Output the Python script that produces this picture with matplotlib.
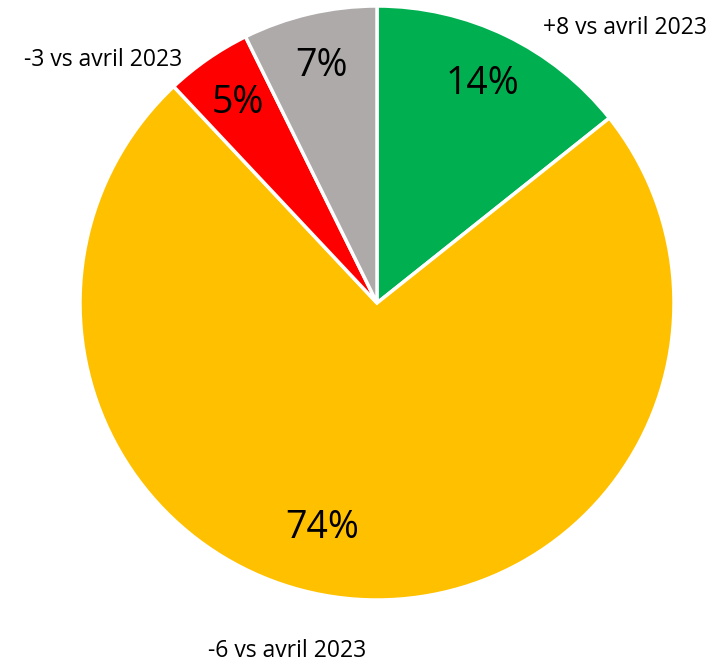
import matplotlib
matplotlib.use("Agg")
import matplotlib.pyplot as plt
import numpy as np

categories = ["Hausse", "Stable", "Baisse", "NSP"]
values = [14.3, 73.7, 4.7, 7.3]
colors = ["#00B050", "#FFC000", "#FF0000", "#AEAAAA"]
annotations = ["+8 vs avril 2023", "-6 vs avril 2023", "-3 vs avril 2023"]

plt.rcParams['font.family'] = ['Open Sans', 'DejaVu Sans']

W, H = 723, 664
fig = plt.figure(figsize=(W/100, H/100), dpi=100)
cx, cy, R = 377, 303, 297
ax = fig.add_axes([(cx-R)/W, (H-cy-R)/H, 2*R/W, 2*R/H])
wedges, texts, autotexts = ax.pie(values, colors=colors, startangle=90, counterclock=False,
                                  autopct='%.0f%%', pctdistance=0.82,
                                  wedgeprops=dict(edgecolor='white', linewidth=2.5),
                                  textprops=dict(fontsize=27, color='black'))
# Excel-like placement of the large slice label
autotexts[1].set_position((-55/R, -225/R))
ax.set_xlim(-1, 1); ax.set_ylim(-1, 1)
ax.set_aspect('equal')
ax.axis('off')

fig.text(625/W, 1-28/H, annotations[0], ha='center', va='center', fontsize=16.5)
fig.text(287/W, 1-651/H, annotations[1], ha='center', va='center', fontsize=16.5)
fig.text(103/W, 1-60/H, annotations[2], ha='center', va='center', fontsize=16.5)

fig.savefig("out.png", dpi=100)
